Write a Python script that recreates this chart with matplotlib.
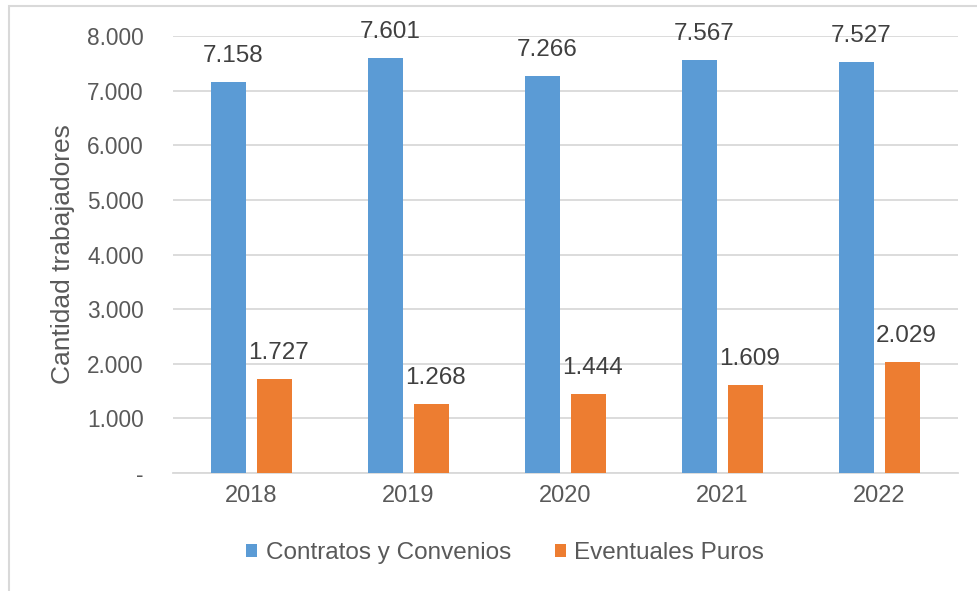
import numpy as np
import matplotlib.pyplot as plt
from matplotlib.ticker import FuncFormatter
from matplotlib.patches import Rectangle

plt.rcParams['font.family'] = ['Liberation Sans', 'DejaVu Sans']

years = ["2018", "2019", "2020", "2021", "2022"]
contratos = [7158, 7601, 7266, 7567, 7527]
eventuales = [1727, 1268, 1444, 1609, 2029]

azul = "#5B9BD5"
naranja = "#ED7D31"
gris_txt = "#595959"
gris_linea = "#D9D9D9"

fig = plt.figure(figsize=(9.77, 5.91), dpi=100)
ax = fig.add_axes([173/977, 1-473/591, (958-173)/977, (473-36)/591])

x = np.arange(len(years))
w = 0.22
off = 0.145
b1 = ax.bar(x - off, contratos, w, color=azul, label="Contratos y Convenios", zorder=3)
b2 = ax.bar(x + off, eventuales, w, color=naranja, label="Eventuales Puros", zorder=3)

# etiquetas de valor con separador de miles "."
def miles(v):
    return f"{v:,.0f}".replace(",", ".")

for xs, vals in ((x - off, contratos), (x + off, eventuales)):
    for xi, v in zip(xs, vals):
        ax.annotate(miles(v), (xi, v), xytext=(4, 26), textcoords="offset pixels",
                    ha="center", va="center", fontsize=17.5, color="#404040", zorder=4)

ax.set_xlim(-0.5, len(years) - 0.5)
ax.set_ylim(0, 8000)
ax.set_yticks(range(0, 8001, 1000))
ax.yaxis.set_major_formatter(FuncFormatter(lambda v, p: "-" if v == 0 else miles(v)))
ax.set_xticks(x)
ax.set_xticklabels(years)
ax.tick_params(axis="y", length=0, pad=21, labelsize=16.3, labelcolor=gris_txt)
ax.tick_params(axis="x", length=0, pad=9, labelsize=17, labelcolor=gris_txt)

ax.grid(axis="y", color=gris_linea, lw=1.3, zorder=0)
for s in ["top", "right", "left"]:
    ax.spines[s].set_visible(False)
ax.spines["bottom"].set_color(gris_linea)
ax.spines["bottom"].set_linewidth(1.3)

ax.set_ylabel("Cantidad trabajadores", fontsize=19, color=gris_txt)
ax.yaxis.set_label_coords((75-173)/785, 0.5)

fig.legend(handles=[b1, b2], loc="center", bbox_to_anchor=(505/977, 1-553/591),
           ncol=2, frameon=False, fontsize=17.5, labelcolor=gris_txt,
           handlelength=0.45, handleheight=0.45, handletextpad=0.35, columnspacing=1.8)

# marco del área del gráfico
fig.add_artist(Rectangle((9/977, -0.1), 1.2, 1.1 - 6/591, transform=fig.transFigure,
                         fill=False, ec=gris_linea, lw=1.5))

fig.savefig("out.png", dpi=100)
